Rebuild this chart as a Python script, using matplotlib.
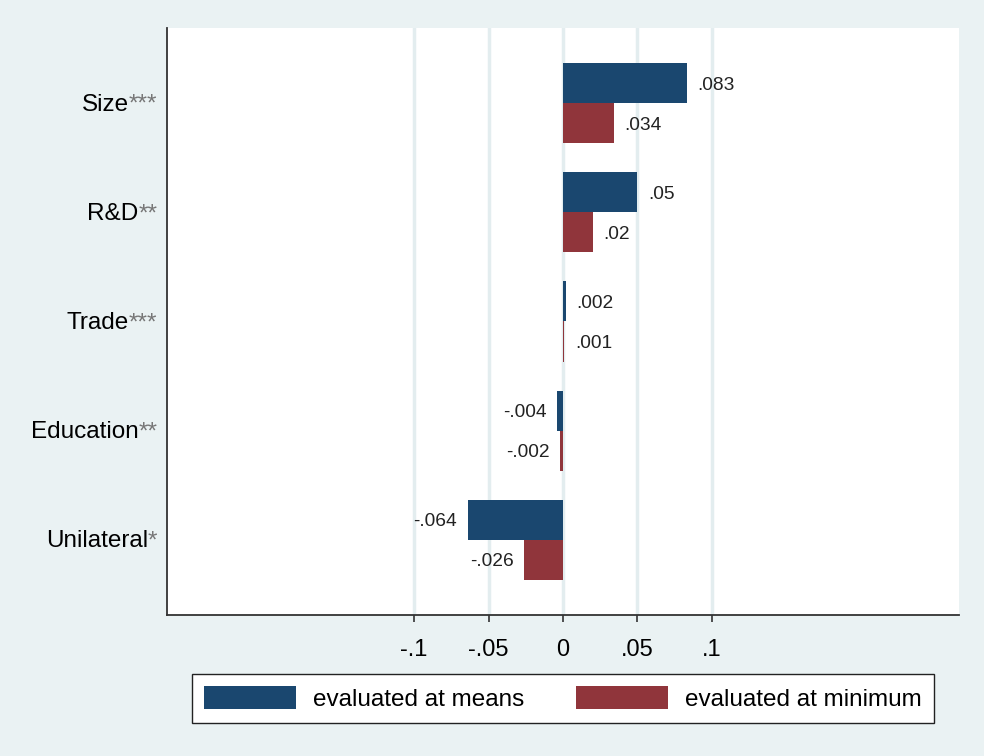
import matplotlib
matplotlib.use('Agg')
import matplotlib.pyplot as plt
import numpy as np

categories = ['Size', 'R&D', 'Trade', 'Education', 'Unilateral']
stars = ['***', '**', '***', '**', '*']
at_means = [0.083, 0.05, 0.002, -0.004, -0.064]
at_minimum = [0.034, 0.02, 0.001, -0.002, -0.026]
mean_labels = ['.083', '.05', '.002', '-.004', '-.064']
min_labels = ['.034', '.02', '.001', '-.002', '-.026']
xticks = [-0.1, -0.05, 0, 0.05, 0.1]
xticklabels = ['-.1', '-.05', '0', '.05', '.1']

plt.rcParams['font.family'] = ['Liberation Sans', 'DejaVu Sans']

bg = '#EAF2F3'
blue = '#1A476F'
red = '#90353B'

fig = plt.figure(figsize=(9.84, 7.56), dpi=100, facecolor=bg)
ax = fig.add_axes([0.1697, 0.1865, 0.8049, 0.7765])
ax.set_facecolor('white')

y = np.arange(len(categories))
h = 0.367
b1 = ax.barh(y - h / 2, at_means, height=h, color=blue, label='evaluated at means', zorder=3)
b2 = ax.barh(y + h / 2, at_minimum, height=h, color=red, label='evaluated at minimum', zorder=3)

for bars, labs in [(b1, mean_labels), (b2, min_labels)]:
    for bar, lab in zip(bars, labs):
        w = bar.get_width()
        yc = bar.get_y() + bar.get_height() / 2
        off = 7.5 if w >= 0 else -7.5
        ax.annotate(lab, xy=(w, yc), xytext=(off, -1.5), textcoords='offset points',
                    ha='left' if w >= 0 else 'right', va='center',
                    fontsize=13.8, color='#222222')

ax.set_xlim(-0.2658, 0.2658)
ax.set_ylim(len(categories) - 1 + 0.69, -0.69)

ax.set_xticks(xticks)
ax.set_xticklabels(xticklabels, fontsize=17)
ax.tick_params(axis='x', length=5, width=1.2, color='#333333', pad=12)
ax.set_yticks([])
ax.xaxis.grid(True, color='#E3EDEF', linewidth=2.5, zorder=0)
ax.set_axisbelow(True)

for s in ['top', 'right']:
    ax.spines[s].set_visible(False)
for s in ['left', 'bottom']:
    ax.spines[s].set_color('#333333')
    ax.spines[s].set_linewidth(1.3)

# category labels with grey significance stars
for yi, name, st in zip(y, categories, stars):
    st_txt = ax.annotate(st, xy=(0, yi), xycoords=('axes fraction', 'data'),
                         xytext=(-7, -1.2), textcoords='offset points',
                         ha='right', va='center', fontsize=17.5, color='#777777')
    ax.annotate(name, xy=(0, 0), xycoords=st_txt, ha='right', va='bottom',
                fontsize=17.5, color='black')

leg = fig.legend(handles=[b1, b2], loc='upper center', bbox_to_anchor=(0.572, 0.1085),
                 ncol=2, fontsize=17.5, frameon=True, fancybox=False,
                 handlelength=3.8, handleheight=1.05, handletextpad=0.7,
                 columnspacing=2.1, borderpad=0.5, borderaxespad=0)
leg.get_frame().set_edgecolor('#222222')
leg.get_frame().set_linewidth(1.0)
leg.get_frame().set_facecolor('white')
leg.get_frame().set_alpha(1)

fig.savefig('out.png', dpi=100, facecolor=bg)
